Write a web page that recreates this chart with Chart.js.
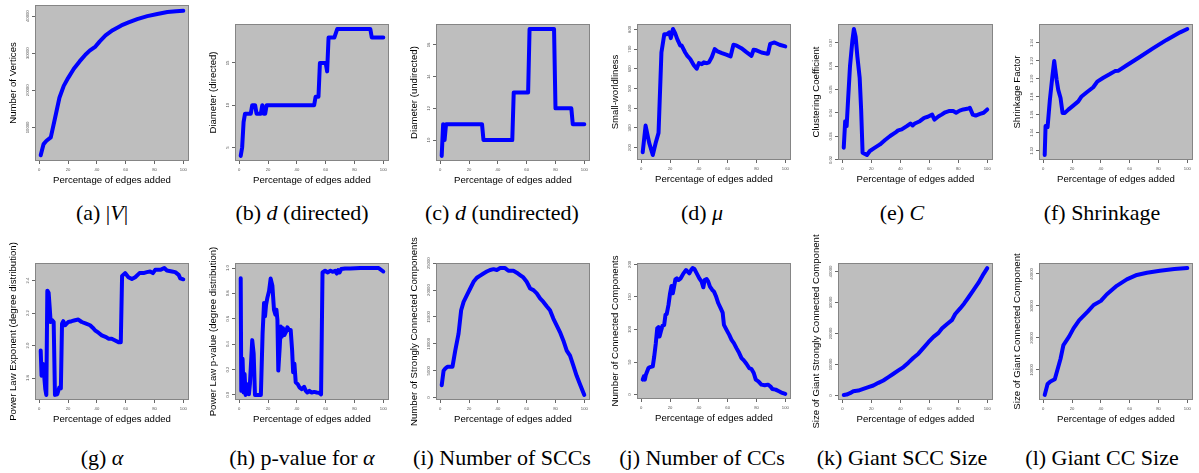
<!DOCTYPE html>
<html>
<head>
<meta charset="utf-8">
<script src="https://cdn.jsdelivr.net/npm/chart.js@4.4.1/dist/chart.umd.min.js"></script>
<style>
body{margin:0;background:#fff;width:1199px;height:473px;overflow:hidden;position:relative}
canvas{position:absolute}
.cap{position:absolute;width:200px;text-align:center;font-family:"Liberation Serif","Times New Roman",serif;font-size:22px;line-height:24px;color:#000;white-space:nowrap}
</style>
</head>
<body>
<script>
// x axis ticks shared by all panels
var pctTicks = [0, 20, 40, 60, 80, 100];

// (a) number of vertices
var verticesX = [1, 3, 5, 8, 11, 14, 17, 20, 24, 28, 32, 35, 39, 42, 46, 51, 57, 62, 68, 75, 82, 89, 95, 100];
var verticesY = [2500, 5500, 6400, 7300, 12600, 18000, 21200, 23300, 25800, 27800, 29600, 30700, 31800, 33200, 34800, 36200, 37500, 38300, 39200, 40000, 40600, 41100, 41350, 41450];
var verticesTicks = [10000, 20000, 30000, 40000];
var verticesTickLabels = ['10000', '20000', '30000', '40000'];

// (b) diameter directed
var diamDirX = [1, 2, 3, 4, 8, 9, 11, 12, 15, 16, 17, 18, 19, 52, 53, 55, 56, 60, 61, 62, 66, 68, 91, 92, 100];
var diamDirY = [4, 5, 8, 9, 9, 10, 10, 9, 9, 10, 9, 9, 10, 10, 11, 11, 15, 15, 14, 18, 18, 19, 19, 18, 18];
var diamDirTicks = [5, 10, 15];
var diamDirTickLabels = ['5', '10', '15'];

// (c) diameter undirected
var diamUndX = [1, 2, 3, 4, 29, 30, 50, 51, 61, 62, 79, 80, 91, 92, 100];
var diamUndY = [9, 11, 10, 11, 11, 10, 10, 13, 13, 17, 17, 12, 12, 11, 11];
var diamUndTicks = [10, 12, 14, 16];
var diamUndTickLabels = ['10', '12', '14', '16'];

// (d) small-worldliness
var smallX = [1, 3, 5.5, 8, 10, 12, 14, 16, 18, 19.5, 20.5, 22, 23.5, 25, 27, 28, 30.5, 32, 34, 36.5, 38.5, 40, 42, 43.5, 45.5, 47, 49, 51, 53, 56, 59, 62, 64, 66, 69.5, 73, 76.5, 78, 80, 83.5, 87, 88, 89.5, 92.5, 96, 100];
var smallY = [177, 312, 224, 163, 224, 275, 683, 776, 776, 785, 756, 802, 781, 751, 719, 719, 683, 666, 650, 618, 601, 629, 624, 633, 629, 633, 660, 700, 689, 680, 672, 663, 722, 719, 705, 685, 666, 697, 694, 683, 677, 677, 727, 734, 722, 714];
var smallTicks = [200, 300, 400, 500, 600, 700, 800];
var smallTickLabels = ['200', '300', '400', '500', '600', '700', '800'];

// (e) clustering coefficient
var clustX = [1, 2, 3, 4, 5.3, 7, 8, 9.2, 10.4, 12, 13, 14, 17, 19, 22.5, 26, 29.5, 33, 36.5, 38.5, 41, 44.5, 47, 48.5, 50, 53.5, 56.5, 59, 62, 63.5, 66.5, 68.5, 71, 73.5, 76.5, 78.5, 81, 83.5, 87, 88, 90, 92, 95, 97.5, 100];
var clustY = [0.0252, 0.0365, 0.0344, 0.0457, 0.0598, 0.0711, 0.0758, 0.0725, 0.0641, 0.0549, 0.0415, 0.0231, 0.0221, 0.0238, 0.0252, 0.0266, 0.0285, 0.0302, 0.0316, 0.0326, 0.0330, 0.0344, 0.0355, 0.0347, 0.0355, 0.0365, 0.0379, 0.0384, 0.0393, 0.0372, 0.0386, 0.0393, 0.0403, 0.0408, 0.0408, 0.0401, 0.0410, 0.0415, 0.0419, 0.0422, 0.0393, 0.0389, 0.0396, 0.0401, 0.0415];
var clustTicks = [0.02, 0.03, 0.04, 0.05, 0.06, 0.07];
var clustTickLabels = ['0.02', '0.03', '0.04', '0.05', '0.06', '0.07'];

// (f) shrinkage
var shrinkX = [1, 1.6, 3, 4.6, 6.3, 7.6, 9.3, 10.4, 12, 13.4, 15, 17.4, 20.8, 24.3, 26.6, 30, 34.7, 37.5, 41.7, 46.3, 49.8, 52, 58, 67, 76.4, 85.6, 95, 100];
var shrinkY = [1.1153, 1.1475, 1.1464, 1.1767, 1.2023, 1.2199, 1.1987, 1.1877, 1.1786, 1.1621, 1.1621, 1.1658, 1.1702, 1.1749, 1.1804, 1.1848, 1.1906, 1.1969, 1.2012, 1.2053, 1.2086, 1.2089, 1.2151, 1.2243, 1.2341, 1.2433, 1.2517, 1.2554];
var shrinkTicks = [1.12, 1.14, 1.16, 1.18, 1.20, 1.22, 1.24];
var shrinkTickLabels = ['1.12', '1.14', '1.16', '1.18', '1.20', '1.22', '1.24'];

// (g) power law exponent
var alphaX = [1, 1.6, 2.6, 3.5, 4.2, 4.9, 5.6, 6.5, 7.2, 7.9, 9, 10, 10.9, 12.5, 13.9, 15, 15.8, 16.7, 17.9, 19, 20.2, 22.5, 24.8, 27.1, 29.5, 32.5, 35.3, 37.1, 38.7, 41.1, 43.4, 46.4, 48, 50.3, 52.7, 55, 56.6, 57.5, 59.6, 61.9, 64.3, 66.6, 69.6, 72.4, 74.7, 77, 78.9, 80.5, 84, 86.8, 88.6, 92.1, 94.4, 96.8, 97.9, 100];
var alphaY = [1.969, 1.814, 1.887, 1.804, 1.731, 1.696, 2.338, 2.325, 2.239, 2.145, 2.156, 2.145, 1.696, 1.700, 1.742, 1.737, 2.135, 2.150, 2.125, 2.135, 2.145, 2.150, 2.156, 2.160, 2.145, 2.135, 2.125, 2.110, 2.094, 2.079, 2.063, 2.052, 2.042, 2.042, 2.031, 2.021, 2.021, 2.429, 2.446, 2.421, 2.410, 2.421, 2.446, 2.446, 2.452, 2.456, 2.446, 2.466, 2.466, 2.477, 2.462, 2.456, 2.452, 2.435, 2.414, 2.408];
var alphaTicks = [1.8, 2.0, 2.2, 2.4];
var alphaTickLabels = ['1.8', '2.0', '2.2', '2.4'];

// (h) p-value for alpha
var pvalX = [1, 1.4, 2.3, 3, 3.7, 4.4, 5.3, 6, 6.7, 7.4, 8.4, 9, 10, 10.9, 15, 16.2, 17.2, 17.9, 18.6, 19.5, 20.7, 21.8, 23, 24.1, 25.1, 25.8, 26.5, 27.1, 28.1, 28.8, 29.5, 30.4, 31.3, 32.5, 33.4, 34.6, 35.7, 36.7, 37.4, 38.3, 39.2, 40.6, 41.8, 43.4, 45, 46.2, 47.3, 48.7, 50.3, 52, 53.8, 55.5, 56.8, 57.8, 59.6, 61.5, 63.1, 65, 66.6, 67.7, 68.7, 69.6, 70.8, 73.5, 77, 84, 88.6, 93.3, 96.8, 100];
var pvalY = [0.92, 0.032, 0.285, 0.019, 0.165, 0, 0.02, 0.085, 0.005, 0.085, 0.3, 0.432, 0.325, 0, 0, 0.485, 0.725, 0.62, 0.71, 0.765, 0.82, 0.917, 0.86, 0.672, 0.632, 0.672, 0.592, 0.192, 0.379, 0.539, 0.459, 0.525, 0.472, 0.499, 0.533, 0.512, 0.512, 0.352, 0.179, 0.245, 0.099, 0.085, 0.059, 0.045, 0.064, 0.032, 0.019, 0.032, 0.019, 0.024, 0.019, 0.016, 0.005, 0.965, 0.979, 0.965, 0.979, 0.971, 0.979, 0.957, 0.984, 0.965, 0.992, 0.997, 0.997, 1.0, 1.0, 1.0, 1.0, 0.973];
var pvalTicks = [0, 0.2, 0.4, 0.6, 0.8, 1.0];
var pvalTickLabels = ['0.0', '0.2', '0.4', '0.6', '0.8', '1.0'];

// (i) number of SCCs
var sccX = [1, 2.3, 3.5, 5, 6.9, 8.5, 10.4, 12.7, 14.5, 16.2, 18.5, 20.8, 23.1, 25.4, 27.7, 30, 32.3, 34.6, 37, 39.3, 41.6, 45, 47.3, 50.8, 53.1, 55.4, 57.7, 60, 62.4, 64.7, 67, 69.3, 71.6, 73.9, 76.2, 78.5, 80.8, 83.1, 85.5, 87.8, 90.1, 92.4, 94.7, 97, 100];
var sccY = [2300, 5000, 5400, 5750, 5750, 5750, 8750, 11900, 16250, 17800, 19050, 20300, 21550, 22300, 22700, 23100, 23450, 23750, 23900, 23750, 24100, 24100, 23600, 23600, 23250, 22800, 22350, 21550, 20300, 20000, 19400, 18450, 17800, 17000, 16250, 14700, 13450, 12200, 10600, 8750, 7800, 5950, 4050, 2500, 500];
var sccTicks = [0, 5000, 10000, 15000, 20000, 25000];
var sccTickLabels = ['0', '5000', '10000', '15000', '20000', '25000'];

// (j) number of CCs
var ccX = [1, 1.8, 2.5, 3.2, 5, 6.2, 8, 9, 10.1, 11.1, 12, 12.7, 13.6, 14.7, 15.9, 16.8, 17.7, 18.9, 20, 21, 21.9, 22.8, 23.7, 24.7, 25.8, 27.4, 29.3, 31.1, 32.3, 33.4, 34.6, 35.7, 36.9, 38.5, 40.3, 41.9, 43.1, 44, 45.4, 46.5, 47.7, 49.3, 50.5, 51.8, 53.5, 55.1, 56.5, 57.4, 59.2, 61.1, 62.7, 64.3, 66.1, 68, 69.6, 71.2, 73, 74.9, 76.5, 78.1, 79.5, 81.3, 83.4, 85.7, 88, 89.6, 91, 93.3, 95.6, 97.9, 100];
var ccY = [23, 28, 23, 30.6, 40.8, 42.3, 43.4, 58.7, 79, 102, 103.6, 89.3, 97, 105.6, 107, 122.4, 124, 137.8, 155.6, 166.8, 155.6, 165.8, 177, 178.6, 176, 178.6, 186.2, 191.3, 188.8, 186.2, 191.3, 194.4, 192.9, 186.2, 178.6, 173.5, 164.8, 176, 177.6, 173.5, 165.8, 160.7, 158.2, 151.5, 140.3, 132.7, 126, 107.1, 99.5, 91.8, 84.2, 79.1, 71.4, 63.8, 56.1, 52.6, 47.4, 40.8, 39.3, 33.2, 23, 20.4, 15.3, 14.3, 15.3, 12.8, 8.7, 7.7, 5.1, 2.6, 1];
var ccTicks = [0, 50, 100, 150, 200];
var ccTickLabels = ['0', '50', '100', '150', '200'];

// (k) giant SCC size
var gsccX = [1, 3, 5.3, 7.6, 11.1, 14.5, 18, 21.4, 24.9, 28.3, 31.8, 35.3, 38.7, 42.2, 45.6, 49.1, 52.5, 56, 59.4, 62.9, 66.4, 68.7, 72.1, 75.6, 77.9, 81.3, 84.1, 87.1, 90.6, 94, 97.5, 100];
var gsccY = [200, 320, 760, 1400, 1620, 2160, 2700, 3240, 4100, 4860, 5950, 7030, 8100, 9190, 10600, 12200, 13500, 15350, 17200, 18900, 20200, 21600, 23000, 24300, 26300, 28100, 29700, 31700, 34050, 36400, 39250, 41100];
var gsccTicks = [0, 10000, 20000, 30000, 40000];
var gsccTickLabels = ['0', '10000', '20000', '30000', '40000'];

// (l) giant CC size
var gccX = [1, 3, 5, 8, 12, 14, 18, 21, 25, 31, 35, 40, 44, 51, 58, 65, 72, 81, 91, 100];
var gccY = [2200, 5600, 6400, 7100, 13500, 17800, 20500, 23000, 25600, 28300, 30300, 31600, 33600, 36300, 38300, 39700, 40400, 41000, 41550, 41850];
var gccTicks = [10000, 20000, 30000, 40000];
var gccTickLabels = ['10000', '20000', '30000', '40000'];

var panels = [
  {x: verticesX, y: verticesY, t: verticesTicks, tl: verticesTickLabels, title: 'Number of Vertices', cap: '(a) |<i>V</i>|', box: [35, 5, 189, 161]},
  {x: diamDirX, y: diamDirY, t: diamDirTicks, tl: diamDirTickLabels, title: 'Diameter (directed)', cap: '(b) <i>d</i> (directed)', box: [235, 24, 389, 161]},
  {x: diamUndX, y: diamUndY, t: diamUndTicks, tl: diamUndTickLabels, title: 'Diameter (undirected)', cap: '(c) <i>d</i> (undirected)', box: [436, 24, 590, 161]},
  {x: smallX, y: smallY, t: smallTicks, tl: smallTickLabels, title: 'Small-worldliness', cap: '(d) <i>μ</i>', box: [637, 24, 791, 160]},
  {x: clustX, y: clustY, t: clustTicks, tl: clustTickLabels, title: 'Clustering Coefficient', cap: '(e) <i>C</i>', box: [838, 24, 993, 160]},
  {x: shrinkX, y: shrinkY, t: shrinkTicks, tl: shrinkTickLabels, title: 'Shrinkage Factor', cap: '(f) Shrinkage', box: [1039, 24, 1193, 160]},
  {x: alphaX, y: alphaY, t: alphaTicks, tl: alphaTickLabels, title: 'Power Law Exponent (degree distribution)', cap: '(g) <i>α</i>', box: [35, 263, 189, 400]},
  {x: pvalX, y: pvalY, t: pvalTicks, tl: pvalTickLabels, title: 'Power Law p-value (degree distribution)', cap: '(h) p-value for <i>α</i>', box: [235, 263, 389, 400]},
  {x: sccX, y: sccY, t: sccTicks, tl: sccTickLabels, title: 'Number of Strongly Connected Components', cap: '(i) Number of SCCs', box: [436, 263, 590, 400]},
  {x: ccX, y: ccY, t: ccTicks, tl: ccTickLabels, title: 'Number of Connected Components', cap: '(j) Number of CCs', box: [637, 263, 791, 399]},
  {x: gsccX, y: gsccY, t: gsccTicks, tl: gsccTickLabels, title: 'Size of Giant Strongly Connected Component', cap: '(k) Giant SCC Size', box: [838, 263, 993, 400]},
  {x: gccX, y: gccY, t: gccTicks, tl: gccTickLabels, title: 'Size of Giant Connected Component', cap: '(l) Giant CC Size', box: [1039, 263, 1193, 400]}
];

var FONT = '"Liberation Sans", Arial, sans-serif';
var titleSize = 9.6, tickSize = 4.2, xAxisH = 30;

function makePanel(p, idx) {
  var col = idx % 6, row = Math.floor(idx / 6);
  var cx = col * 200, cy = row ? 225 : 0;
  var cw = 200, ch = row ? 215 : 200;
  var L = p.box[0] - cx, T = p.box[1] - cy, R = p.box[2] - cx, B = p.box[3] - cy;

  var c = document.createElement('canvas');
  c.width = cw; c.height = ch;
  c.style.left = cx + 'px'; c.style.top = cy + 'px';
  document.body.appendChild(c);

  var cap = document.createElement('div');
  cap.className = 'cap';
  cap.innerHTML = p.cap;
  cap.style.left = (cx + 2) + 'px';
  cap.style.top = (row ? 446 : 201) + 'px';
  document.body.appendChild(cap);

  var ymin = Math.min.apply(null, p.y), ymax = Math.max.apply(null, p.y);
  var pad = (ymax - ymin) * 0.04;
  var lh = titleSize * 1.2;

  var frame = {
    id: 'frame' + idx,
    beforeDraw: function(chart) {
      var a = chart.chartArea, ctx = chart.ctx;
      ctx.save();
      ctx.fillStyle = '#bebebe';
      ctx.fillRect(a.left, a.top, a.right - a.left, a.bottom - a.top);
      ctx.restore();
    },
    afterDraw: function(chart) {
      var a = chart.chartArea, ctx = chart.ctx, ys = chart.scales.y;
      ctx.save();
      ctx.strokeStyle = '#858585';
      ctx.lineWidth = 1;
      ctx.strokeRect(a.left + 0.5, a.top + 0.5, a.right - a.left - 1, a.bottom - a.top - 1);
      // rotated y tick labels, R style
      ctx.font = tickSize + 'px ' + FONT;
      ctx.fillStyle = '#555';
      ctx.textAlign = 'center';
      ctx.textBaseline = 'middle';
      ys.ticks.forEach(function(t, i) {
        var py = ys.getPixelForValue(t.value);
        ctx.save();
        ctx.translate(a.left - 7, py);
        ctx.rotate(-Math.PI / 2);
        ctx.fillText(p.tl[i], 0, 0);
        ctx.restore();
      });
      ctx.restore();
    }
  };

  new Chart(c, {
    type: 'line',
    data: {
      datasets: [{
        data: p.x.map(function(v, i) { return {x: v, y: p.y[i]}; }),
        borderColor: '#0000ff',
        borderWidth: 4,
        pointRadius: 0,
        tension: 0,
        fill: false,
        borderJoinStyle: 'round',
        borderCapStyle: 'round'
      }]
    },
    options: {
      responsive: false,
      animation: false,
      devicePixelRatio: 1,
      layout: {padding: {left: 0, top: T, right: cw - R, bottom: ch - B - xAxisH}},
      plugins: {legend: {display: false}, tooltip: {enabled: false}},
      scales: {
        x: {
          type: 'linear', min: -2.96, max: 103.96,
          afterFit: function(s) { s.height = xAxisH; },
          afterBuildTicks: function(s) { s.ticks = pctTicks.map(function(v) { return {value: v}; }); },
          ticks: {font: {size: tickSize, family: FONT}, color: '#555', padding: 3, maxRotation: 0, autoSkip: false},
          grid: {drawOnChartArea: false, drawTicks: true, tickLength: 3, color: '#666'},
          border: {display: false},
          title: {display: true, text: 'Percentage of edges added', color: '#000',
                  font: {size: titleSize, family: FONT}, padding: {top: 0, bottom: 11 - lh / 2}}
        },
        y: {
          type: 'linear', min: ymin - pad, max: ymax + pad,
          afterFit: function(s) { s.width = L; },
          afterBuildTicks: function(s) { s.ticks = p.t.map(function(v) { return {value: v}; }); },
          ticks: {display: false},
          grid: {drawOnChartArea: false, drawTicks: true, tickLength: 3, color: '#666'},
          border: {display: false},
          title: {display: true, text: p.title, color: '#000',
                  font: {size: titleSize, family: FONT}, padding: {top: L - 22 - lh / 2, bottom: 0}}
        }
      }
    },
    plugins: [frame]
  });
}

panels.forEach(makePanel);
</script>
</body>
</html>
